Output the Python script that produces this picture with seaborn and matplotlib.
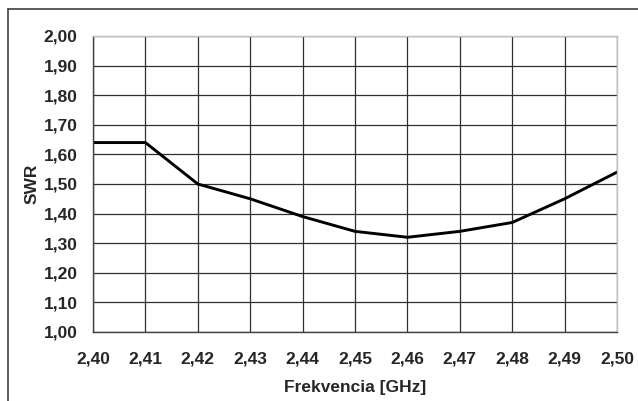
import matplotlib
matplotlib.use("Agg")
import matplotlib.pyplot as plt
import seaborn as sns
import pandas as pd
from matplotlib.lines import Line2D
from matplotlib.ticker import FuncFormatter, MultipleLocator

freq = [2.40, 2.41, 2.42, 2.43, 2.44, 2.45, 2.46, 2.47, 2.48, 2.49, 2.50]
swr = [1.64, 1.64, 1.50, 1.45, 1.39, 1.34, 1.32, 1.34, 1.37, 1.45, 1.54]

sns.set_theme(style="white")
plt.rcParams['font.family'] = ['Liberation Sans', 'DejaVu Sans']
plt.rcParams['font.weight'] = 'bold'

W, H = 638, 401
fig = plt.figure(figsize=(W / 100, H / 100), dpi=100)
fig.patch.set_facecolor("white")
ax = fig.add_axes([93 / W, (H - 332) / H, (617 - 93) / W, (332 - 36) / H])

df = pd.DataFrame({"f": freq, "swr": swr})
sns.lineplot(data=df, x="f", y="swr", ax=ax, color="black", linewidth=2.1)

ax.set_xlim(2.40, 2.50)
ax.set_ylim(1.00, 2.00)
ax.xaxis.set_major_locator(MultipleLocator(0.01))
ax.yaxis.set_major_locator(MultipleLocator(0.10))
fmt = FuncFormatter(lambda v, p: f"{v:.2f}".replace(".", ","))
ax.xaxis.set_major_formatter(fmt)
ax.yaxis.set_major_formatter(fmt)

ax.grid(True, color="#303030", linewidth=0.9)
ax.set_axisbelow(True)
for s in ["top", "right"]:
    ax.spines[s].set_color("#c0c0c0")
    ax.spines[s].set_linewidth(1.0)
for s in ["left", "bottom"]:
    ax.spines[s].set_color("#404040")
    ax.spines[s].set_linewidth(1.0)

ax.tick_params(axis="both", which="major", direction="out", length=5, width=1,
               color="#404040", labelsize=12.5, pad=6)
for lab in ax.get_xticklabels() + ax.get_yticklabels():
    lab.set_fontweight("bold")
ax.tick_params(axis="x", pad=9)

ax.set_xlabel("Frekvencia [GHz]", fontsize=12.5, fontweight="bold", labelpad=10)
ax.set_ylabel("SWR", fontsize=12.5, fontweight="bold", labelpad=3)

# outer chart frame (top and left edges visible)
fig.add_artist(Line2D([8 / W, 1.0], [1 - 9 / H, 1 - 9 / H], transform=fig.transFigure,
                      color="#404040", linewidth=1.2))
fig.add_artist(Line2D([8 / W, 8 / W], [0.0, 1 - 9 / H], transform=fig.transFigure,
                      color="#404040", linewidth=1.2))

fig.savefig("out.png", dpi=100, facecolor="white")
